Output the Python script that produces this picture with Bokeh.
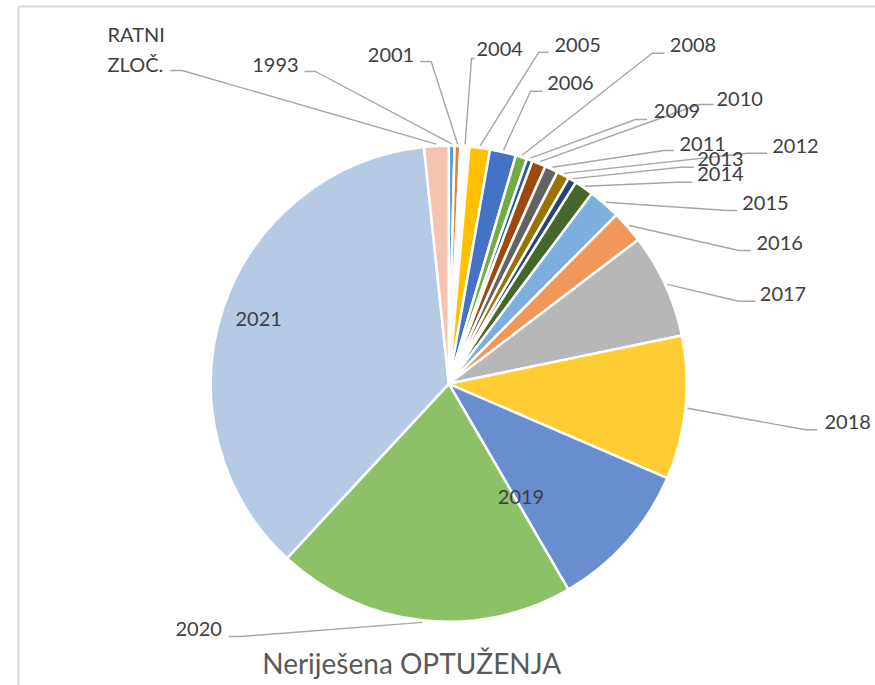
import math
from bokeh.plotting import figure
from bokeh.models import ColumnDataSource, Range1d
from bokeh.core.properties import value
from bokeh.embed import file_html
from bokeh.resources import INLINE

# ---------------- data ----------------
categories = ["1993", "2001", "2004", "2005", "2006", "2008", "2009", "2010", "2011",
              "2012", "2013", "2014", "2015", "2016", "2017", "2018", "2019", "2020",
              "2021", "RATNI ZLOČ."]
values = [1.4, 1.4, 2.2, 5.0, 6.4, 2.8, 1.4, 3.4, 3.2, 3.1, 2.0, 4.7, 7.8, 8.0,
          25.6, 35.1, 36.5, 73.1, 131.3, 6.0]
colors = ["#5B9BD5", "#ED7D31", "#FFFFFF", "#FFC000", "#4472C4", "#70AD47", "#255E91",
          "#9E480E", "#636363", "#997300", "#264478", "#43682B", "#7CAFDD", "#F1975A",
          "#B7B7B7", "#FFCD33", "#698ED0", "#8CC168", "#B6CAE6", "#F5C3AF"]
title_text = "Neriješena  OPTUŽENJA"

# ---------------- layout (pixel coordinates of the picture) ----------------
W, H = 875, 685
cx, cy, R = 448.3, 383.3, 238.0
# label left x, label centre y
label_x = [251.7, 367.3, 476, 554, 546.7, 669.3, 653.3, 716, 679, 771.7, 696.7, 696.7,
           741.7, 756, 759.3, 824, 497.3, 175, 235, 107]
label_y = [65, 55, 49, 45, 83, 45, 111, 99, 144, 146, 159, 174, 202.5, 243.3, 294,
           421.7, 496.7, 629, 319, 34]
# leader line: point near label, bend point, y of horizontal part (None = inside label)
lead_near = [304, 419.3, 474, 548.3, 541.7, 664, 646.7, 713.3, 673.3, 766.7, 693.3, 691.7,
             736.7, 750, 755, 816.7, None, 228.3, None, 170]
lead_bend = [315, 430.7, 471, 538.3, 530, 651.7, 635, 698.3, 663.3, 746.7, 680, 676.7,
             726.7, 738.3, 738.3, 805, None, 240, None, 181.7]
lead_y = [71, 61, 58, 51.7, 90.7, 52.7, 119, 104, 150, 152.7, 166.7, 181.7, 210, 250,
          300.7, 429.3, None, 636, None, 70]


def fy(y):
    return H - y


total = sum(values)
starts, ends, mids = [], [], []
acc = 0.0
for v in values:
    a0 = acc / total * 2 * math.pi
    acc += v
    a1 = acc / total * 2 * math.pi
    starts.append(math.pi / 2 - a0)
    ends.append(math.pi / 2 - a1)
    mids.append((a0 + a1) / 2)

p = figure(width=W, height=H, output_backend="svg", toolbar_location=None,
           x_range=Range1d(0, W), y_range=Range1d(0, H),
           min_border=0, outline_line_color=None)
p.xaxis.visible = False
p.yaxis.visible = False
p.grid.visible = False
p.background_fill_color = "white"
p.border_fill_color = "white"

# frame lines
p.segment(x0=[18, 18], y0=[fy(6), fy(6)], x1=[W + 5, 18], y1=[fy(6), -5],
          line_color="#D9D9D9", line_width=2)

src = ColumnDataSource(dict(cat=categories, val=values, start=starts, end=ends, color=colors))
p.wedge(x=cx, y=fy(cy), radius=R, start_angle="start", end_angle="end",
        direction="clock", fill_color="color", line_color="white", line_width=2.5,
        source=src)

# leader lines
xs, ys = [], []
for i, m in enumerate(mids):
    if lead_near[i] is None:
        continue
    px = cx + (R + 2) * math.sin(m)
    py = cy - (R + 2) * math.cos(m)
    xs.append([lead_near[i], lead_bend[i], px])
    ys.append([fy(lead_y[i]), fy(lead_y[i]), fy(py)])
p.multi_line(xs=xs, ys=ys, line_color="#A6A6A6", line_width=1.4)

# labels
tx, ty, tt = [], [], []
for i, c in enumerate(categories):
    lines = c.split(" ")
    for k, ln in enumerate(lines):
        tx.append(label_x[i])
        ty.append(fy(label_y[i] + 30 * k - 0.5))
        tt.append(ln)
p.text(x=tx, y=ty, text=tt, text_font=value("Lato"), text_font_size="20px",
       text_color="#404040", text_align="left", text_baseline="alphabetic")

# title
p.text(x=[261.7], y=[fy(662)], text=[title_text], text_font=value("Lato"),
       text_font_size="28px", text_color="#595959", text_align="left",
       text_baseline="alphabetic")

open("out.html", "w").write(file_html(p, INLINE))
